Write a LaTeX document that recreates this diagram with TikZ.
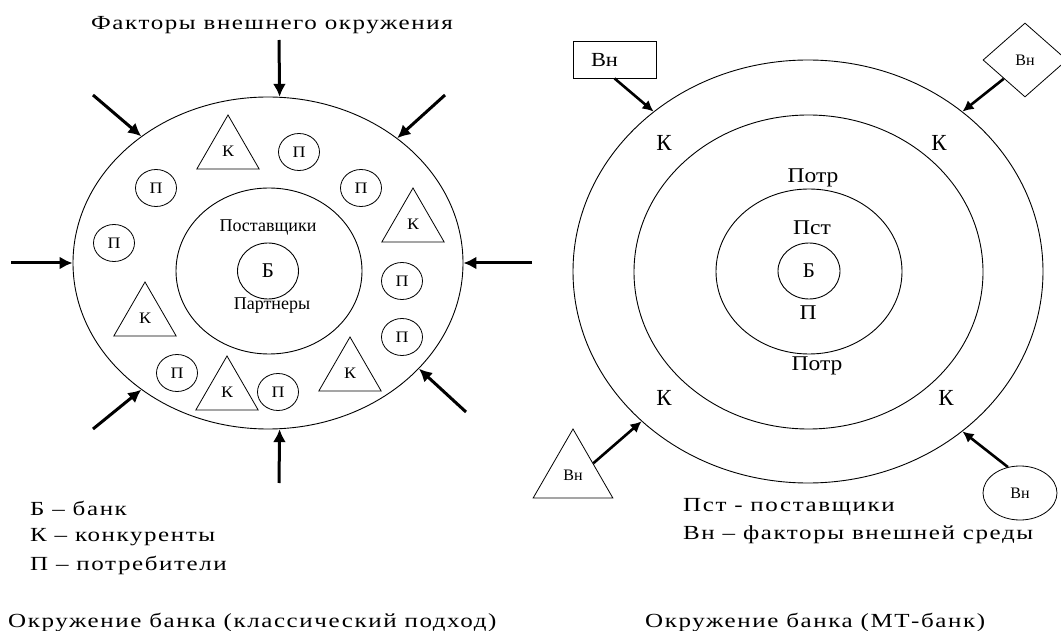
\documentclass[tikz,border=0pt]{standalone}
\usepackage{fontspec}
\setmainfont{Liberation Serif}
\newfontfamily\spacedfont[LetterSpace=8,FakeStretch=1.25]{Liberation Serif}
\newfontfamily\widefont[FakeStretch=1.12]{Liberation Serif}
\usetikzlibrary{arrows.meta,shapes.geometric}
\newcommand{\mysize}[1]{\fontsize{#1}{#1}\selectfont}
\begin{document}
\begin{tikzpicture}[x=1pt,y=-1pt,
  ring/.style={draw, ellipse, line width=0.9pt, inner sep=0pt},
  pcirc/.style={draw, ellipse, line width=0.8pt, minimum width=41pt, minimum height=37pt, inner sep=0pt, font=\widefont\mysize{16}},
  ktri/.style={draw, regular polygon, regular polygon sides=3, minimum size=72pt, inner sep=0pt, line width=0.8pt, font=\widefont\mysize{16}},
  bigarrow/.style={line width=3pt, -{Latex[length=13pt,width=13pt]}},
  vnarrow/.style={line width=2.6pt, -{Latex[length=11pt,width=11pt]}},
  legend/.style={anchor=west, inner sep=0pt, font=\spacedfont\mysize{20}},
  title/.style={inner sep=0pt, font=\spacedfont\mysize{20}},
  smalltxt/.style={inner sep=0pt, font=\mysize{18}},
  klabel/.style={inner sep=0pt, font=\mysize{23}},
  rlabel/.style={inner sep=0pt, font=\widefont\mysize{21}},
  vnbox/.style={draw, line width=0.8pt, inner sep=0pt},
  vnsmall/.style={font=\mysize{16}}
]
\useasboundingbox (0,0) rectangle (1061,631);

% ---------------- left diagram ----------------
\node[title] (ttl) at (272,25) {Факторы внешнего окружения};
\node[ring, minimum width=390pt, minimum height=332pt] (louter) at (268,263) {};
\node[ring, minimum width=186pt, minimum height=166pt] (linner) at (269,271) {};
\node[ring, minimum width=61pt, minimum height=56pt, font=\mysize{21}] (lbank) at (268,271) {Б};
\node[smalltxt] (post) at (268,227) {Поставщики};
\node[smalltxt] (part) at (272,306) {Партнеры};

\node[ktri] (k1) at (228,151) {К};
\node[ktri] (k2) at (413,224) {К};
\node[ktri] (k3) at (145,318) {К};
\node[ktri] (k4) at (350,373) {К};
\node[ktri] (k5) at (227,392) {К};

\node[pcirc] (p1) at (299,152) {П};
\node[pcirc] (p2) at (156,188) {П};
\node[pcirc] (p3) at (361,188) {П};
\node[pcirc] (p4) at (114,243) {П};
\node[pcirc] (p5) at (402,281) {П};
\node[pcirc] (p6) at (402,337) {П};
\node[pcirc] (p7) at (177,373) {П};
\node[pcirc] (p8) at (278,392) {П};

\coordinate (a1) at (279,40);
\coordinate (a2) at (93,95);
\coordinate (a3) at (445,95);
\coordinate (a4) at (11,263);
\coordinate (a5) at (532,263);
\coordinate (a6) at (93,429);
\coordinate (a7) at (466,412);
\coordinate (a8) at (279,483);
\draw[bigarrow] (a1) -- (louter.86);
\draw[bigarrow] (a2) -- (louter.135);
\draw[bigarrow] (a3) -- (louter.44);
\draw[bigarrow] (a4) -- (louter.180);
\draw[bigarrow] (a5) -- (louter.0);
\draw[bigarrow] (a6) -- (louter.225);
\draw[bigarrow] (a7) -- (louter.325);
\draw[bigarrow] (a8) -- (louter.274);

\node[legend] (lg1) at (30,508) {Б – банк};
\node[legend] (lg2) at (30,537) {К – конкуренты};
\node[legend] (lg3) at (30,565) {П – потребители};
\node[legend] (cap1) at (8,622) {Окружение банка (классический подход)};

% ---------------- right diagram ----------------
\node[ring, minimum width=470pt, minimum height=423pt] (router) at (808,271.5) {};
\node[ring, minimum width=349pt, minimum height=314pt] (rmid) at (808.5,272) {};
\node[ring, minimum width=186pt, minimum height=165pt] (rinner) at (809,271.5) {};
\node[ring, minimum width=62pt, minimum height=56pt, font=\mysize{21}] (rbank) at (809,271) {Б};

\node[rlabel] (potr1) at (813,178) {Потр};
\node[rlabel] (pst) at (812,228) {Пст};
\node[rlabel] (pp) at (808,313) {П};
\node[rlabel] (potr2) at (817,366) {Потр};
\node[klabel] (rk1) at (664,143) {К};
\node[klabel] (rk2) at (939,143) {К};
\node[klabel] (rk3) at (664,398) {К};
\node[klabel] (rk4) at (946,398) {К};

\node[vnbox, minimum width=83pt, minimum height=37pt,
  label={[font=\widefont\mysize{20}, xshift=-10pt]center:Вн}] (vn1) at (614.5,59.5) {};
\node[vnbox, diamond, minimum width=84pt, minimum height=74pt, vnsmall] (vn2) at (1025,60) {Вн};
\node[vnbox, regular polygon, regular polygon sides=3, minimum size=92pt, vnsmall] (vn3) at (573,475) {Вн};
\node[vnbox, ellipse, minimum width=74pt, minimum height=54pt, vnsmall] (vn4) at (1020,493) {Вн};

\draw[vnarrow] (vn1.south) -- (router.134);
\draw[vnarrow] (vn2.south west) -- (router.46);
\draw[vnarrow] (vn3.side 3) -- (router.222);
\draw[vnarrow] (vn4.115) -- (router.314);

\node[legend] (lg4) at (683,507) {Пст - поставщики};
\node[legend] (lg5) at (683,535) {Вн – факторы внешней среды};
\node[legend] (cap2) at (645,622) {Окружение банка (МТ-банк)};
\end{tikzpicture}
\end{document}
